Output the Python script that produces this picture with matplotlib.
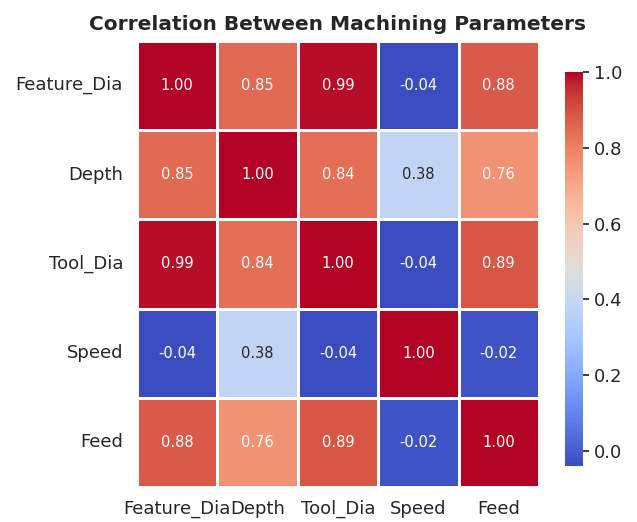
import pandas as pd
import matplotlib
matplotlib.use('Agg')
import matplotlib.pyplot as plt
import seaborn as sns
import numpy as np

params = ['Feature_Dia', 'Depth', 'Tool_Dia', 'Speed', 'Feed']
corr_vals = [
    [1.00, 0.85, 0.99, -0.04, 0.88],
    [0.85, 1.00, 0.84, 0.38, 0.76],
    [0.99, 0.84, 1.00, -0.04, 0.89],
    [-0.04, 0.38, -0.04, 1.00, -0.02],
    [0.88, 0.76, 0.89, -0.02, 1.00],
]

corr = pd.DataFrame(corr_vals, index=params, columns=params)

sns.set_theme(style='white')
plt.rcParams['font.family'] = ['DejaVu Sans']

fig = plt.figure(figsize=(6.37, 5.22), dpi=100)
ax = fig.add_axes([0.215, 0.067, 0.631, 0.855])
cax = fig.add_axes([0.887, 0.107, 0.029, 0.755])

sns.heatmap(corr, annot=True, fmt='.2f', cmap='coolwarm', linewidths=1,
            linecolor='white', ax=ax, cbar_ax=cax,
            annot_kws={'fontsize': 10.5})

ax.set_title('Correlation Between Machining Parameters', fontsize=14.5,
             fontweight='bold', pad=8)
ax.tick_params(axis='x', labelsize=13, rotation=0, pad=9, length=0)
ax.tick_params(axis='y', labelsize=13, rotation=0, pad=10, length=0)
cax.tick_params(labelsize=13, length=4)
cax.set_yticks([0.0, 0.2, 0.4, 0.6, 0.8, 1.0])

plt.savefig('out.png', dpi=100, facecolor='white')
